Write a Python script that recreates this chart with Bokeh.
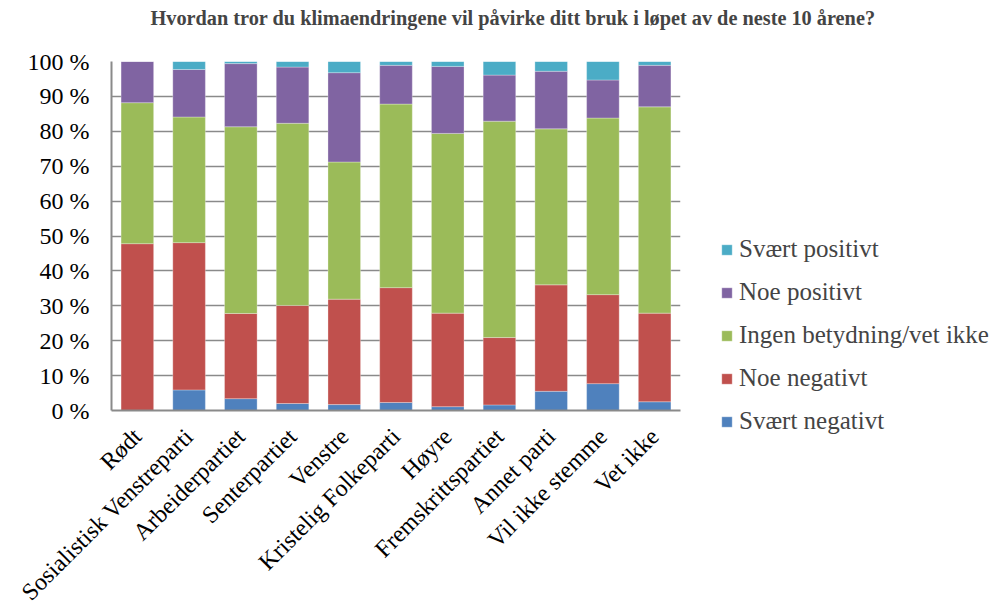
import math
from bokeh.plotting import figure
from bokeh.models import ColumnDataSource, FactorRange, Range1d, FixedTicker, Legend, LegendItem, Title
from bokeh.embed import file_html
from bokeh.resources import INLINE

title_text = "Hvordan tror du klimaendringene vil påvirke ditt bruk i løpet av de neste 10 årene?"

categories = ["Rødt", "Sosialistisk Venstreparti", "Arbeiderpartiet", "Senterpartiet",
              "Venstre", "Kristelig Folkeparti", "Høyre", "Fremskrittspartiet",
              "Annet parti", "Vil ikke stemme", "Vet ikke"]

series_names = ["Svært negativt", "Noe negativt", "Ingen betydning/vet ikke",
                "Noe positivt", "Svært positivt"]
series_colors = ["#4F81BD", "#C0504D", "#9BBB59", "#8064A2", "#4BACC6"]

svaert_negativt = [0.0, 5.9, 3.4, 2.0, 1.7, 2.3, 1.1, 1.6, 5.5, 7.7, 2.5]
noe_negativt = [47.8, 42.2, 24.4, 28.1, 30.2, 32.9, 26.8, 19.3, 30.5, 25.5, 25.4]
ingen_betydning = [40.4, 36.0, 53.5, 52.2, 39.3, 52.6, 51.5, 62.0, 44.7, 50.6, 59.1]
noe_positivt = [11.8, 13.6, 18.1, 16.1, 25.6, 11.1, 19.2, 13.2, 16.5, 10.9, 11.9]
svaert_positivt = [0.0, 2.3, 0.6, 1.6, 3.2, 1.1, 1.4, 3.9, 2.8, 5.3, 1.1]

y_ticks = [0, 10, 20, 30, 40, 50, 60, 70, 80, 90, 100]
y_tick_labels = ["0 %", "10 %", "20 %", "30 %", "40 %", "50 %", "60 %", "70 %", "80 %", "90 %", "100 %"]

keys = ["s0", "s1", "s2", "s3", "s4"]
source = ColumnDataSource(data=dict(
    cat=categories,
    s0=svaert_negativt, s1=noe_negativt, s2=ingen_betydning,
    s3=noe_positivt, s4=svaert_positivt,
))

FONT = "Liberation Serif"

p = figure(
    x_range=FactorRange(*categories, range_padding=0),
    y_range=Range1d(0, 100),
    frame_width=569, frame_height=349,
    min_border_left=111, min_border_right=314, min_border_top=61, min_border_bottom=203,
    output_backend="svg", toolbar_location=None,
    background_fill_color="white", border_fill_color="white",
    outline_line_color=None,
)
p.title.text = ""
p.title.standoff = 0

# spacer directly above the frame, then the real title above it
p.add_layout(Title(text=" ", text_font_size="1px", standoff=30), "above")
p.add_layout(Title(text=title_text, text_font=FONT, text_font_style="bold",
                   text_font_size="20.3px", align="left", offset=39,
                   vertical_align="bottom", standoff=0), "above")

renderers = p.vbar_stack(keys, x="cat", width=0.63, source=source,
                         color=series_colors, line_color="white", line_width=0.6, line_alpha=0.5)

# grid
p.xgrid.grid_line_color = None
p.ygrid.grid_line_color = "#8A8A8A"
p.ygrid.grid_line_width = 1.5
p.ygrid.ticker = FixedTicker(ticks=y_ticks)

# y axis
p.yaxis.ticker = FixedTicker(ticks=y_ticks)
p.yaxis.major_label_overrides = {t: l for t, l in zip(y_ticks, y_tick_labels)}
p.yaxis.major_label_text_font = FONT
p.yaxis.major_label_text_font_size = "24px"
p.yaxis.major_label_text_color = "black"
p.yaxis.axis_line_color = "#8A8A8A"
p.yaxis.axis_line_width = 2
p.yaxis.major_tick_out = 0
p.yaxis.major_tick_in = 0
p.yaxis.minor_tick_out = 0
p.yaxis.minor_tick_in = 0
p.yaxis.major_label_standoff = 22

# x axis
p.xaxis.major_label_orientation = math.pi / 4
p.xaxis.major_label_text_font = FONT
p.xaxis.major_label_text_font_size = "24px"
p.xaxis.major_label_text_color = "black"
p.xaxis.axis_line_color = "#8A8A8A"
p.xaxis.axis_line_width = 2
p.xaxis.major_tick_out = 0
p.xaxis.major_tick_in = 0
p.xaxis.major_label_standoff = 22

items = [LegendItem(label=series_names[i], renderers=[renderers[i]]) for i in range(len(keys))][::-1]
legend = Legend(items=items, location=(40, -25),
                label_text_font=FONT, label_text_font_size="25px",
                label_text_baseline="alphabetic",
                glyph_width=13, glyph_height=13, label_height=28,
                label_standoff=6, spacing=15, padding=0, margin=0,
                border_line_color=None, background_fill_alpha=0)
p.add_layout(legend, "right")

open("out.html", "w").write(file_html(p, INLINE))
